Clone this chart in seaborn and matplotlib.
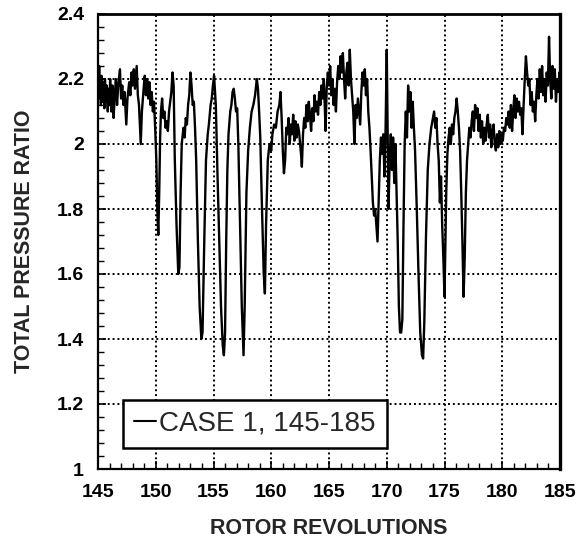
import matplotlib
matplotlib.use("Agg")
import matplotlib.pyplot as plt
import seaborn as sns
import pandas as pd
from matplotlib.ticker import MultipleLocator, FixedLocator

sns.set_theme(style="white")
plt.rcParams['font.family'] = ['Liberation Sans', 'DejaVu Sans']

series_label = "CASE 1, 145-185"
x_title = "ROTOR REVOLUTIONS"
y_title = "TOTAL PRESSURE RATIO"
x_ticks = [145, 150, 155, 160, 165, 170, 175, 180, 185]
y_ticks = [1.0, 1.2, 1.4, 1.6, 1.8, 2.0, 2.2, 2.4]
y_tick_labels = ["1", "1.2", "1.4", "1.6", "1.8", "2", "2.2", "2.4"]

# revolutions 145-152
rev_a = [145.0, 145.05, 145.1, 145.15, 145.2, 145.25, 145.3, 145.4, 145.45, 145.55, 145.6, 145.7,
         145.75, 145.85, 145.9, 146.0, 146.05, 146.15, 146.25, 146.35, 146.45, 146.55, 146.65,
         146.75, 146.9, 147.0, 147.1, 147.2, 147.3, 147.45, 147.55, 147.7, 147.8, 147.9, 148.0,
         148.1, 148.2, 148.35, 148.45, 148.55, 148.7, 148.8, 148.95, 149.05, 149.15, 149.25,
         149.35, 149.45, 149.55, 149.65, 149.75, 149.85, 149.95, 150.05, 150.15, 150.22, 150.3,
         150.38, 150.45, 150.55, 150.65, 150.75, 150.85, 150.95, 151.05, 151.15, 151.25, 151.35,
         151.45, 151.55, 151.65]
ratio_a = [2.22, 2.14, 2.24, 2.16, 2.2, 2.12, 2.21, 2.13, 2.19, 2.11, 2.2, 2.13,
           2.18, 2.1, 2.17, 2.12, 2.2, 2.1, 2.18, 2.08, 2.15, 2.2, 2.12,
           2.18, 2.23, 2.14, 2.18, 2.12, 2.16, 2.06, 2.14, 2.19, 2.15, 2.22, 2.18,
           2.23, 2.17, 2.24, 2.15, 2.12, 2.0, 2.1, 2.17, 2.21, 2.15, 2.2,
           2.14, 2.19, 2.12, 2.16, 2.1, 2.13, 2.05, 1.95, 1.78, 1.72, 1.85,
           2.02, 2.1, 2.14, 2.08, 2.1, 2.05, 2.07, 2.04, 2.1, 2.13, 2.16,
           2.22, 2.18, 1.95]

# revolutions 151.8-165
rev_b = [151.8, 151.95, 152.05, 152.15, 152.25, 152.4, 152.5, 152.6, 152.7, 152.8, 152.9, 153.0,
         153.1, 153.2, 153.3, 153.4, 153.5, 153.65, 153.8, 153.95, 154.05, 154.2, 154.35, 154.5,
         154.6, 154.75, 154.85, 154.95, 155.05, 155.12, 155.2, 155.35, 155.5, 155.65, 155.8,
         155.9, 156.0, 156.1, 156.2, 156.3, 156.45, 156.55, 156.65, 156.75, 156.85, 156.95,
         157.05, 157.15, 157.3, 157.45, 157.6, 157.7, 157.85, 158.0, 158.15, 158.3, 158.45,
         158.6, 158.75, 158.85, 158.95, 159.05, 159.2, 159.35, 159.45, 159.55, 159.7, 159.85,
         160.0, 160.1, 160.25, 160.4, 160.55, 160.7, 160.8, 160.9, 161.0, 161.1, 161.2, 161.3,
         161.4, 161.5, 161.6, 161.7, 161.8, 161.9, 162.0, 162.1, 162.2, 162.3, 162.4, 162.5,
         162.6, 162.65, 162.75, 162.85, 162.95, 163.05, 163.15, 163.25, 163.35, 163.45, 163.55,
         163.65, 163.75, 163.85, 163.95, 164.05, 164.15, 164.25, 164.35, 164.45, 164.55, 164.65,
         164.7, 164.8, 164.9]
ratio_b = [1.75, 1.6, 1.62, 1.85, 2.0, 2.05, 2.02, 2.08, 2.06, 2.12, 2.15, 2.22,
           2.18, 2.12, 2.13, 2.05, 1.95, 1.7, 1.5, 1.4, 1.42, 1.7, 1.95, 2.03,
           2.06, 2.12, 2.14, 2.18, 2.21, 2.17, 2.12, 1.9, 1.7, 1.5, 1.38,
           1.35, 1.42, 1.7, 1.92, 2.03, 2.1, 2.12, 2.16, 2.17, 2.14, 2.1,
           2.11, 2.0, 1.75, 1.5, 1.35, 1.5, 1.85, 1.98, 2.05, 2.1, 2.12,
           2.15, 2.2, 2.17, 2.1, 2.02, 1.8, 1.6, 1.54, 1.75, 1.95, 2.0,
           1.98, 2.03, 2.06, 2.05, 2.1, 2.12, 2.16, 2.08, 1.98, 1.91, 1.95, 2.05,
           2.03, 2.08, 2.0, 2.06, 2.03, 2.09, 2.01, 2.07, 2.02, 2.06, 2.04, 2.0,
           1.96, 1.93, 2.03, 2.08, 2.05, 2.12, 2.07, 2.13, 2.09, 2.04, 2.11,
           2.07, 2.15, 2.1, 2.13, 2.09, 2.16, 2.12, 2.18, 2.14, 2.2, 2.1,
           2.04, 2.17, 2.22]

# revolutions 165-178
rev_c = [165.0, 165.1, 165.2, 165.3, 165.4, 165.5, 165.6, 165.7, 165.8, 165.9, 166.0, 166.1,
         166.2, 166.3, 166.4, 166.5, 166.6, 166.7, 166.8, 166.9, 167.0, 167.1, 167.2, 167.3,
         167.4, 167.5, 167.6, 167.7, 167.8, 167.9, 168.0, 168.1, 168.2, 168.3, 168.4, 168.5,
         168.6, 168.7, 168.8, 168.9, 169.0, 169.1, 169.2, 169.3, 169.4, 169.5, 169.6, 169.7,
         169.8, 169.9, 170.0, 170.1, 170.15, 170.25, 170.35, 170.45, 170.55, 170.65, 170.75,
         170.85, 170.95, 171.05, 171.15, 171.25, 171.35, 171.45, 171.55, 171.65, 171.75,
         171.85, 171.95, 172.05, 172.15, 172.25, 172.35, 172.45, 172.6, 172.75, 172.9, 173.05,
         173.15, 173.25, 173.4, 173.55, 173.7, 173.85, 174.0, 174.1, 174.2, 174.3, 174.4,
         174.5, 174.6, 174.7, 174.8, 174.9, 175.0, 175.08, 175.15, 175.25, 175.35, 175.45,
         175.55, 175.65, 175.75, 175.85, 175.95, 176.05, 176.15, 176.25, 176.35, 176.45,
         176.55, 176.65, 176.75, 176.85, 176.95, 177.05, 177.15, 177.25, 177.35, 177.45,
         177.55, 177.65, 177.75, 177.85, 177.95]
ratio_c = [2.18, 2.24, 2.15, 2.2, 2.12, 2.17, 2.1, 2.19, 2.24, 2.2, 2.27, 2.22,
           2.28, 2.2, 2.14, 2.22, 2.25, 2.18, 2.29, 2.2, 2.15, 2.1, 2.0, 2.12,
           2.08, 2.14, 2.1, 2.06, 2.16, 2.22, 2.18, 2.23, 2.15, 2.2, 2.1, 2.05,
           1.98, 1.9, 1.82, 1.78, 1.8, 1.75, 1.7, 1.82, 1.95, 2.02, 1.97, 2.03,
           1.9, 2.05, 2.29, 1.95, 1.8, 1.95, 2.03, 1.92, 2.02, 1.88, 2.0,
           1.85, 1.7, 1.5, 1.42, 1.42, 1.46, 1.75, 2.0, 2.1, 2.02,
           2.18, 2.1, 2.16, 2.05, 2.13, 2.05, 1.98, 1.8, 1.6, 1.42, 1.35,
           1.34, 1.45, 1.72, 1.92, 2.0, 2.05, 2.08, 2.1, 2.05, 2.08, 2.0,
           1.95, 1.82, 1.9, 1.75, 1.65, 1.53, 1.7, 1.85, 1.97, 2.02, 2.05,
           2.0, 2.06, 2.03, 2.08, 2.1, 2.14, 2.1, 2.05, 1.98, 1.85,
           1.7, 1.53, 1.65, 1.85, 1.95, 2.0, 2.05, 2.02, 2.07, 2.1,
           2.04, 2.12, 2.08, 2.11, 2.04]

# revolutions 178-185
rev_d = [178.05, 178.15, 178.25, 178.35, 178.45, 178.55, 178.65, 178.75, 178.85, 178.95,
         179.05, 179.15, 179.25, 179.35, 179.45, 179.55, 179.65, 179.75, 179.85, 179.95,
         180.05, 180.15, 180.25, 180.35, 180.45, 180.55, 180.65, 180.75, 180.85, 180.95,
         181.05, 181.15, 181.25, 181.35, 181.45, 181.55, 181.65, 181.75, 181.85, 181.95,
         182.05, 182.15, 182.25, 182.35, 182.45, 182.55, 182.65, 182.75, 182.85, 182.95,
         183.05, 183.15, 183.25, 183.35, 183.45, 183.55, 183.65, 183.75, 183.85, 183.95,
         184.05, 184.15, 184.25, 184.35, 184.45, 184.55, 184.65, 184.75, 184.85, 184.95, 185.0]
ratio_d = [2.09, 2.02, 2.07, 2.0, 2.05, 2.01, 2.06, 2.09, 2.02, 2.06,
           1.99, 2.04, 2.06, 2.0, 1.98, 2.03, 1.99, 2.04, 2.0, 2.03,
           2.01, 2.05, 2.04, 2.08, 2.06, 2.1, 2.05, 2.12, 2.04, 2.1,
           2.15, 2.08, 2.14, 2.1, 2.13, 2.09, 2.11, 2.03, 2.12, 2.2,
           2.27, 2.22, 2.18, 2.2, 2.12, 2.16, 2.1, 2.13, 2.07, 2.15,
           2.2, 2.14, 2.23, 2.16, 2.24, 2.15, 2.2, 2.13, 2.22, 2.18,
           2.33, 2.2, 2.14, 2.24, 2.17, 2.23, 2.13, 2.2, 2.16, 2.22, 2.2]

df = pd.DataFrame({
    "rev": rev_a + rev_b + rev_c + rev_d,
    "ratio": ratio_a + ratio_b + ratio_c + ratio_d,
})
df["series"] = series_label

fig = plt.figure(figsize=(5.8, 5.5), dpi=100)
ax = fig.add_axes([98 / 580, 1 - 469 / 550, 462 / 580, 455 / 550])

sns.lineplot(data=df, x="rev", y="ratio", hue="series", palette=["black"],
             estimator=None, sort=False, linewidth=1.7, ax=ax, zorder=3)

ax.set_xlim(145, 185)
ax.set_ylim(1.0, 2.4)
ax.xaxis.set_major_locator(FixedLocator(x_ticks))
ax.set_xticklabels([str(t) for t in x_ticks])
ax.yaxis.set_major_locator(FixedLocator(y_ticks))
ax.set_yticklabels(y_tick_labels)
ax.xaxis.set_minor_locator(MultipleLocator(1))
ax.yaxis.set_minor_locator(MultipleLocator(0.04))

ax.grid(True, which="major", color="black", linestyle=(0, (1, 1.5)), linewidth=1.4)
ax.set_axisbelow(True)

ax.tick_params(axis="both", which="major", direction="in", length=6, width=1.2,
               colors="black", labelsize=14, left=True, bottom=True)
ax.tick_params(axis="both", which="minor", direction="in", length=4, width=1.0,
               left=True, bottom=True, colors="black")
ax.tick_params(axis="x", which="major", pad=11)
ax.tick_params(axis="y", which="major", pad=10)
for lab in ax.get_xticklabels() + ax.get_yticklabels():
    lab.set_fontweight("bold")

for side, lw in [("left", 1.6), ("bottom", 1.6), ("top", 2.0), ("right", 2.4)]:
    ax.spines[side].set_visible(True)
    ax.spines[side].set_color("black")
    ax.spines[side].set_linewidth(lw)

ax.set_xlabel(x_title, fontsize=15.5, fontweight="bold", labelpad=12)
ax.set_ylabel(y_title, fontsize=15.5, fontweight="bold", labelpad=16)

leg = ax.legend(loc="lower left", bbox_to_anchor=(0.054, 0.046), borderaxespad=0,
                frameon=True, fancybox=False, fontsize=20, handlelength=0.8,
                handletextpad=0.1, borderpad=0.4, title=None)
leg.get_frame().set_edgecolor("black")
leg.get_frame().set_linewidth(1.8)
leg.get_frame().set_facecolor("white")
leg.get_frame().set_alpha(1)
leg.set_zorder(5)
for h in leg.get_lines():
    h.set_linewidth(1.5)

fig.savefig("out.png", dpi=100, facecolor="white")
